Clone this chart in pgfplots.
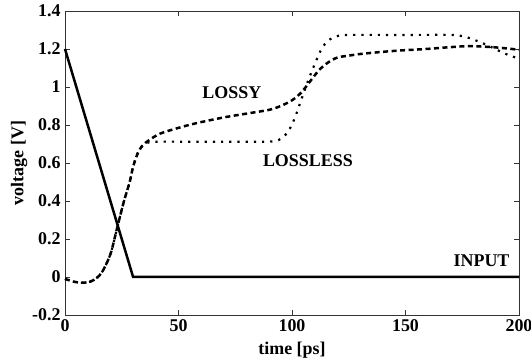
\documentclass[border=0pt]{standalone}
\usepackage{pgfplots}
\pgfplotsset{compat=1.18}
\usepackage{fontspec}
\setmainfont{Liberation Serif}
\begin{document}
\begin{tikzpicture}
\path[use as bounding box] (0,0) rectangle (531bp,360bp);
\begin{axis}[
  at={(65bp,45bp)}, anchor=south west,
  scale only axis, width=454bp, height=304bp,
  xmin=0, xmax=200, ymin=-0.2, ymax=1.4,
  xtick={0,50,100,150,200},
  ytick={-0.2,0,0.2,0.4,0.6,0.8,1,1.2,1.4},
  yticklabels={-0.2,0,0.2,0.4,0.6,0.8,1,1.2,1.4},
  xticklabels={0,50,100,150,200},
  tick align=inside, major tick length=5bp,
  axis line style={line width=0.8bp, black!80},
  every tick/.style={line width=0.8bp, black!80},
  tick label style={font=\fontsize{18}{20}\selectfont\bfseries},
  label style={font=\fontsize{18}{20}\selectfont\bfseries},
  /pgf/number format/assume math mode=true,
  xlabel={time [ps]}, ylabel={voltage [V]},
  xticklabel style={yshift=-1bp},
  yticklabel style={xshift=-1bp},
  xlabel style={yshift=-4bp},
  ylabel style={yshift=-2bp},
  clip=false,
]
% INPUT
\addplot[black, line width=2.5bp] coordinates {(0,1.2) (30,0) (200,0)};
% LOSSLESS
\addplot[black, line width=2.2bp, smooth, tension=0.5, dash pattern=on 2.2bp off 6bp] coordinates {
(0,-0.01) (4,-0.025) (8,-0.03) (12,-0.02) (16,0.02) (20,0.12) (23,0.26) (26,0.40) (28.5,0.5) (30,0.58) (32,0.65) (34,0.69) (36,0.705) (40,0.712) (60,0.712) (80,0.712) (90,0.713) (94,0.72) (98,0.76) (101,0.83) (104,0.93) (107,1.03) (110,1.12) (113,1.2) (116,1.245) (120,1.268) (125,1.274) (150,1.274) (170,1.274) (176,1.265) (181,1.245) (186,1.22) (192,1.186) (196,1.165) (200,1.15)};
% LOSSY
\addplot[black, line width=2.5bp, smooth, tension=0.5, dash pattern=on 5bp off 3.5bp] coordinates {
(0,-0.01) (4,-0.025) (8,-0.03) (12,-0.02) (16,0.02) (20,0.12) (23,0.26) (26,0.40) (28.5,0.5) (30,0.58) (32,0.65) (34,0.69) (37,0.72) (42,0.755) (50,0.785) (58,0.81) (70,0.84) (80,0.86) (90,0.88) (95,0.9) (100,0.93) (104,0.97) (108,1.03) (112,1.09) (116,1.13) (120,1.155) (125,1.165) (131,1.175) (145,1.19) (159,1.2) (170,1.21) (178,1.215) (188,1.21) (197,1.2) (200,1.195)};
\node[font=\fontsize{18}{20}\selectfont\bfseries] at (axis cs:73.5,0.97) {LOSSY};
\node[font=\fontsize{18}{20}\selectfont\bfseries] at (axis cs:107,0.61) {LOSSLESS};
\node[font=\fontsize{18}{20}\selectfont\bfseries] at (axis cs:183.5,0.084) {INPUT};
\end{axis}
\end{tikzpicture}
\end{document}
